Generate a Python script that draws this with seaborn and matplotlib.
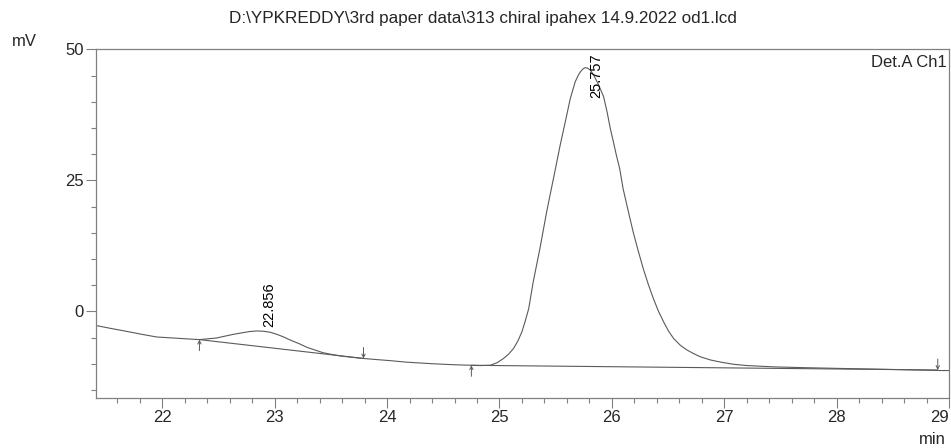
import matplotlib
matplotlib.use("Agg")
import matplotlib.pyplot as plt
from matplotlib.ticker import MultipleLocator
import seaborn as sns
import pandas as pd

# ---- data ----
time_min = [21.407, 21.55, 21.70, 21.82, 21.95, 22.10, 22.25, 22.33, 22.48, 22.63,
            22.71, 22.78, 22.84, 22.90, 22.96, 23.02, 23.08, 23.14, 23.22, 23.29,
            23.36, 23.43, 23.50, 23.58, 23.68, 23.79, 23.90, 24.02, 24.17, 24.40,
            24.60, 24.75, 24.83, 24.917, 24.98, 25.036, 25.08, 25.125, 25.165, 25.20,
            25.23, 25.26, 25.30, 25.33, 25.36, 25.39, 25.42, 25.45, 25.48, 25.51,
            25.54, 25.585, 25.63, 25.674, 25.70, 25.72, 25.745, 25.763, 25.785, 25.81,
            25.84, 25.88, 25.926, 25.956, 25.986, 26.015, 26.04, 26.07, 26.10, 26.145,
            26.19, 26.235, 26.28, 26.325, 26.37, 26.415, 26.46, 26.505, 26.55, 26.61,
            26.67, 26.73, 26.79, 26.88, 26.97, 27.08, 27.20, 27.44, 27.70, 28.03,
            28.50, 28.93, 29.00]
signal_mv = [-2.7, -3.3, -3.9, -4.4, -4.9, -5.1, -5.3, -5.4, -5.1, -4.4,
             -4.1, -3.85, -3.75, -3.8, -4.0, -4.4, -4.9, -5.5, -6.2, -6.9,
             -7.4, -7.9, -8.2, -8.5, -8.75, -9.0, -9.2, -9.4, -9.7, -10.0,
             -10.2, -10.3, -10.35, -10.3, -9.8, -9.0, -8.2, -7.1, -5.6, -3.9,
             -1.8, 0.5, 5.6, 8.8, 12.0, 15.5, 19.0, 22.2, 25.3, 28.5,
             31.7, 36.1, 40.6, 43.8, 45.0, 45.7, 46.3, 46.5, 46.4, 46.0,
             45.0, 43.3, 41.0, 38.2, 34.9, 32.2, 29.8, 27.2, 23.4, 19.2,
             15.1, 11.5, 8.1, 5.1, 2.4, 0.0, -2.0, -3.8, -5.2, -6.5,
             -7.4, -8.1, -8.7, -9.3, -9.7, -10.1, -10.35, -10.6, -10.75, -10.9,
             -11.1, -11.3, -11.3]

peak_times = [22.856, 25.757]
peak_labels = ["22.856", "25.757"]
peak_heights = [-3.75, 46.5]

baseline_t0 = [22.33, 24.75]
baseline_t1 = [23.79, 28.90]
baseline_v0 = [-5.4, -10.3]
baseline_v1 = [-9.0, -11.2]

mark_times = [22.33, 23.79, 24.75, 28.90]
mark_values = [-5.4, -9.0, -10.3, -11.2]
mark_dirs = ["up", "down", "up", "down"]

x_ticks = [22, 23, 24, 25, 26, 27, 28, 29]
y_ticks = [0, 25, 50]

title = r"D:\YPKREDDY\3rd paper data\313 chiral ipahex 14.9.2022 od1.lcd"

# ---- plotting ----
sns.set_style("white")
plt.rcParams["font.family"] = ["Liberation Sans", "DejaVu Sans"]

W, H = 951, 448
fig = plt.figure(figsize=(W / 100, H / 100), dpi=100)
ax = fig.add_axes([95.7 / W, 1 - 398.3 / H, (949 - 95.7) / W, (398.3 - 49.3) / H])

line_col = "#5a5a5a"
spine_col = "#808080"

df = pd.DataFrame({"time": time_min, "mV": signal_mv})
sns.lineplot(data=df, x="time", y="mV", ax=ax, color=line_col, linewidth=0.8,
             sort=False, estimator=None)

base_df = pd.DataFrame({
    "time": baseline_t0 + baseline_t1,
    "mV": baseline_v0 + baseline_v1,
    "seg": list(range(len(baseline_t0))) * 2,
})
sns.lineplot(data=base_df, x="time", y="mV", units="seg", estimator=None, ax=ax,
             color=line_col, linewidth=0.8, legend=False)

for t, v, d in zip(mark_times, mark_values, mark_dirs):
    off = -11 if d == "up" else 11
    ax.annotate("", xy=(t, v), xytext=(0, off), textcoords="offset pixels",
                xycoords="data",
                arrowprops=dict(arrowstyle="->", color=line_col, lw=0.7,
                                mutation_scale=6, shrinkA=0, shrinkB=0))

ax.set_xlim(21.407, 29.0)
ax.set_ylim(-16.6, 50)

# peak labels
ax.annotate(peak_labels[0], xy=(peak_times[0], peak_heights[0]), xytext=(4, 4),
            textcoords="offset pixels", rotation=90, ha="left", va="bottom",
            fontsize=10.5, color="black")
ax.annotate(peak_labels[1], xy=(peak_times[1], 50), xytext=(5, -4),
            textcoords="offset pixels", rotation=90, ha="left", va="top",
            fontsize=10.5, color="black")

ax.set_xticks(x_ticks)
ax.set_yticks(y_ticks)
ax.set_xticklabels([str(t) for t in x_ticks])
ax.xaxis.set_minor_locator(MultipleLocator(0.2))
ax.yaxis.set_minor_locator(MultipleLocator(5))
ax.tick_params(axis="both", which="major", direction="out", length=7, width=0.8,
               color=spine_col, labelsize=12, pad=1.5, bottom=True, left=True)
ax.tick_params(axis="both", which="minor", direction="out", length=3.6, width=0.8,
               color=spine_col, bottom=True, left=True)
ax.get_xticklabels()[-1].set_ha("right")
ax.set_xlabel("")
ax.set_ylabel("")
for s in ax.spines.values():
    s.set_color(spine_col)
    s.set_linewidth(0.9)

fig.text(483 / W, 1 - 18 / H, title, ha="center", va="center", fontsize=12.3)
fig.text(12 / W, 1 - 41 / H, "mV", ha="left", va="center", fontsize=12)
fig.text(946 / W, 1 - 439 / H, "min", ha="right", va="center", fontsize=12)
ax.text(0.997, 0.985, "Det.A Ch1", transform=ax.transAxes, ha="right", va="top",
        fontsize=12)

fig.savefig("out.png", dpi=100)
